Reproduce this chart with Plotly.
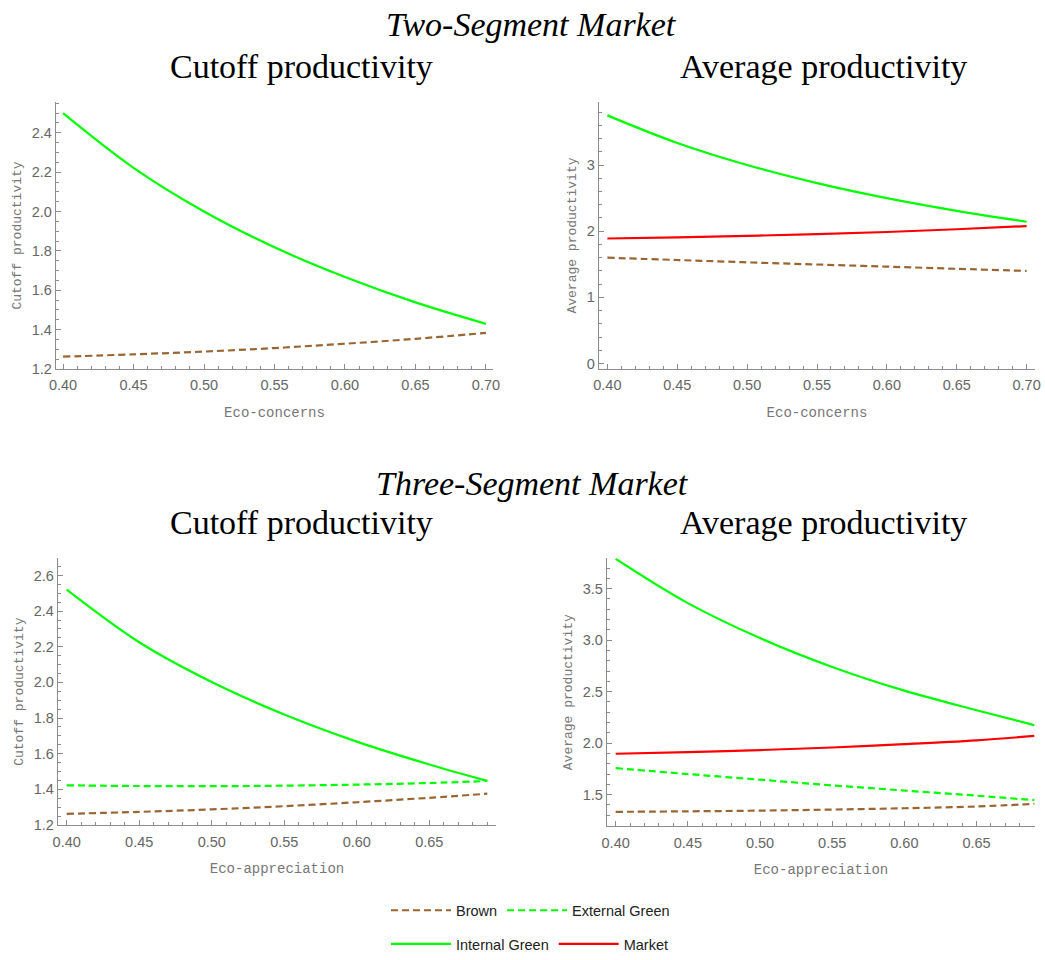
import plotly.graph_objects as go

# ---- data -------------------------------------------------------------
# Two-segment market (x: eco-concerns)
x_two = [0.40, 0.45, 0.50, 0.55, 0.60, 0.65, 0.70]
two_cut_brown = [1.262, 1.274, 1.288, 1.306, 1.328, 1.353, 1.383]
two_cut_internal = [2.500, 2.222, 2.000, 1.818, 1.667, 1.538, 1.429]
two_avg_brown = [1.600, 1.565, 1.530, 1.497, 1.465, 1.432, 1.400]
two_avg_internal = [3.750, 3.333, 3.000, 2.727, 2.500, 2.308, 2.143]
two_avg_market = [1.890, 1.908, 1.930, 1.955, 1.988, 2.030, 2.078]

# Three-segment market (x: eco-appreciation)
x_three = [0.40, 0.45, 0.50, 0.55, 0.60, 0.65, 0.69]
three_cut_brown = [1.263, 1.274, 1.288, 1.306, 1.328, 1.353, 1.376]
three_cut_external = [1.423, 1.419, 1.418, 1.421, 1.427, 1.436, 1.447]
three_cut_internal = [2.520, 2.225, 2.002, 1.820, 1.668, 1.540, 1.448]
three_avg_brown = [1.333, 1.338, 1.345, 1.355, 1.368, 1.385, 1.410]
three_avg_external = [1.757, 1.700, 1.645, 1.590, 1.540, 1.490, 1.447]
three_avg_internal = [3.790, 3.360, 3.020, 2.740, 2.510, 2.320, 2.175]
three_avg_market = [1.897, 1.913, 1.933, 1.958, 1.990, 2.028, 2.070]

# ---- styling ----------------------------------------------------------
W, H = 1045, 960
BROWN = "#996633"
GREEN = "#00ff00"
RED = "#ff0000"
AXIS_GREY = "#8c8c8c"
TICK_GREY = "#666666"
LABEL_GREY = "#777777"
DASH = "7px,4px"

STYLE = {
    "Brown": dict(color=BROWN, dash=DASH, legend="legend"),
    "External Green": dict(color=GREEN, dash=DASH, legend="legend"),
    "Internal Green": dict(color=GREEN, dash="solid", legend="legend2"),
    "Market": dict(color=RED, dash="solid", legend="legend2"),
}


def px_x(a, b):
    return [a / W, b / W]


def px_y(top, bottom):
    return [1 - bottom / H, 1 - top / H]


fig = go.Figure()


def add_series(name, x, y, axis_id, show):
    st = STYLE[name]
    fig.add_trace(go.Scatter(
        x=x, y=y, mode="lines", name=name,
        line=dict(color=st["color"], dash=st["dash"], width=2.2, shape="spline"),
        xaxis="x" + axis_id if axis_id != "1" else "x",
        yaxis="y" + axis_id if axis_id != "1" else "y",
        legend=st["legend"], showlegend=show, hoverinfo="skip",
    ))


# top-left: cutoff, two segments
add_series("Internal Green", x_two, two_cut_internal, "1", False)
add_series("Brown", x_two, two_cut_brown, "1", False)
# top-right: average, two segments
add_series("Internal Green", x_two, two_avg_internal, "2", False)
add_series("Market", x_two, two_avg_market, "2", False)
add_series("Brown", x_two, two_avg_brown, "2", False)
# bottom-left: cutoff, three segments
add_series("Internal Green", x_three, three_cut_internal, "3", False)
add_series("External Green", x_three, three_cut_external, "3", False)
add_series("Brown", x_three, three_cut_brown, "3", False)
# bottom-right: average, three segments (carries the legend entries)
add_series("Brown", x_three, three_avg_brown, "4", True)
add_series("External Green", x_three, three_avg_external, "4", True)
add_series("Internal Green", x_three, three_avg_internal, "4", True)
add_series("Market", x_three, three_avg_market, "4", True)

TICK_FONT = dict(family="Liberation Sans, Arial", size=14.5, color=TICK_GREY)


def xaxis(domain, rng, anchor, title):
    return dict(
        domain=domain, range=rng, anchor=anchor, automargin=False,
        showline=True, linecolor=AXIS_GREY, linewidth=1.3,
        showgrid=False, zeroline=False,
        ticks="inside", ticklen=5, tickwidth=1, tickcolor=AXIS_GREY,
        tick0=0.4, dtick=0.05, tickformat=".2f", ticklabelstandoff=3,
        minor=dict(ticks="inside", ticklen=3, tickwidth=1, tickcolor=AXIS_GREY, dtick=0.01, tick0=0.4),
        tickfont=TICK_FONT,
        title=dict(text=title, standoff=14,
                   font=dict(family="Liberation Mono, Courier New", size=14, color=LABEL_GREY)),
    )


def yaxis(domain, rng, anchor, dtick, minor_dtick, fmt, tick0, title):
    return dict(
        domain=domain, range=rng, anchor=anchor, automargin=False,
        showline=True, linecolor=AXIS_GREY, linewidth=1.3,
        showgrid=False, zeroline=False,
        ticks="inside", ticklen=5, tickwidth=1, tickcolor=AXIS_GREY,
        tick0=tick0, dtick=dtick, tickformat=fmt,
        minor=dict(ticks="inside", ticklen=3, tickwidth=1, tickcolor=AXIS_GREY,
                   dtick=minor_dtick, tick0=tick0),
        tickfont=TICK_FONT,
        title=dict(text=title, standoff=7,
                   font=dict(family="Liberation Mono, Courier New", size=13, color=LABEL_GREY)),
    )


LEGEND_FONT = dict(family="Liberation Sans, Arial", size=14.5, color="#222222")

fig.update_layout(
    width=W, height=H, template="none",
    margin=dict(l=0, r=0, t=0, b=0),
    paper_bgcolor="white", plot_bgcolor="white",
    xaxis=xaxis(px_x(56, 493), [0.395, 0.705], "y", "Eco-concerns"),
    yaxis=yaxis(px_y(103, 372), [1.2, 2.556], "x", 0.2, 0.05, ".1f", 1.2, "Cutoff productivity"),
    xaxis2=xaxis(px_x(599, 1035), [0.394, 0.706], "y2", "Eco-concerns"),
    yaxis2=yaxis(px_y(103, 372), [-0.08, 3.95], "x2", 1, 0.2, "d", 0, "Average productivity"),
    xaxis3=xaxis(px_x(58, 496), [0.394, 0.696], "y3", "Eco-appreciation"),
    yaxis3=yaxis(px_y(563, 832), [1.2, 2.696], "x3", 0.2, 0.05, ".1f", 1.2, "Cutoff productivity"),
    xaxis4=xaxis(px_x(607, 1035), [0.394, 0.6905], "y4", "Eco-appreciation"),
    yaxis4=yaxis(px_y(563, 833), [1.195, 3.795], "x4", 0.5, 0.1, ".1f", 1.5, "Average productivity"),
    legend=dict(orientation="h", x=386 / W, y=1 - 918 / H, xanchor="left", yanchor="middle",
                font=LEGEND_FONT, bgcolor="rgba(0,0,0,0)", itemwidth=60),
    legend2=dict(orientation="h", x=386 / W, y=1 - 952 / H, xanchor="left", yanchor="middle",
                 font=LEGEND_FONT, bgcolor="rgba(0,0,0,0)", itemwidth=60),
)

SERIF = "Liberation Serif, Times New Roman, serif"
titles = [
    ("<i>Two-Segment Market</i>", 531, 25, 34),
    ("Cutoff productivity", 301, 67, 34),
    ("Average productivity", 823, 67, 34),
    ("<i>Three-Segment Market</i>", 532, 488, 34),
    ("Cutoff productivity", 301, 527, 34),
    ("Average productivity", 823, 527, 34),
]
for text, cx, cy, size in titles:
    fig.add_annotation(text=text, x=cx / W, y=1 - cy / H, xref="paper", yref="paper",
                       xanchor="center", yanchor="middle", showarrow=False,
                       font=dict(family=SERIF, size=size, color="black"))

fig.write_html("out.html")
